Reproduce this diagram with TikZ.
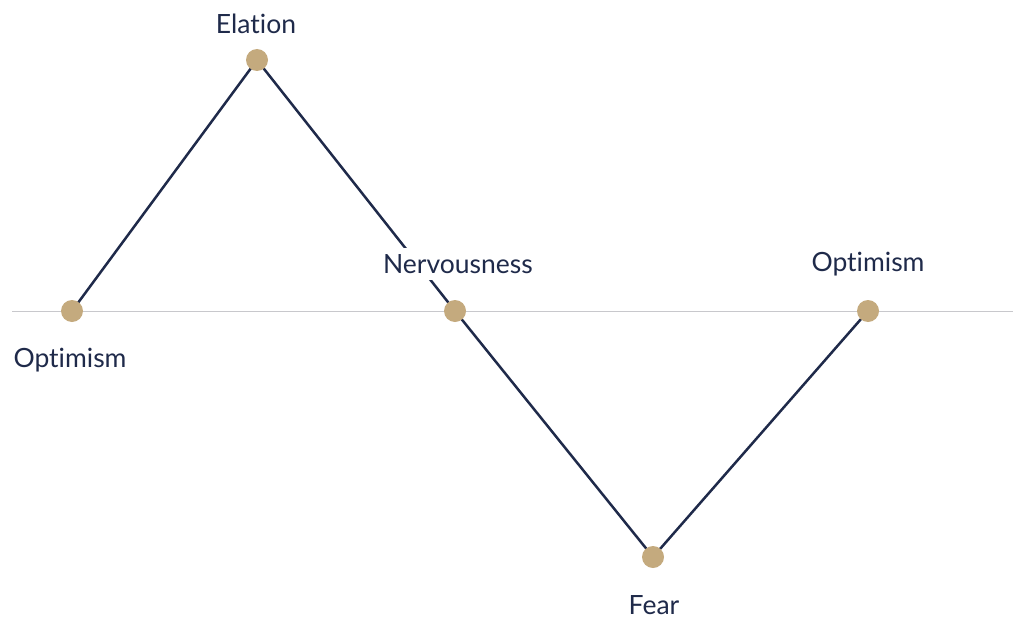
\documentclass[tikz,border=0pt]{standalone}
\usepackage{fontspec}
\setmainfont{Lato}[Ligatures={NoCommon}]
\usetikzlibrary{backgrounds,positioning}
\definecolor{cNavy}{RGB}{31, 42, 74}
\definecolor{cSand}{RGB}{196,170,126}
\definecolor{cAxis}{RGB}{200,200,204}
\tikzset{
  % Mood point
  dot/.style={circle, fill=cSand, minimum size=22pt, inner sep=0pt},
  % Mood label
  mood/.style={font=\fontsize{26.5}{30}\selectfont, text=cNavy, inner sep=2pt},
  % Path segment
  seg/.style={draw=cNavy, line width=2.5pt},
}
\begin{document}
\begin{tikzpicture}[x=1pt, y=-1pt]
\useasboundingbox (0,0) rectangle (1019,618);

% ── Axis ─────────────────────────────────────────────────────────
\coordinate (axl) at (12,311);
\coordinate (axr) at (1013,311);

% ── Points ───────────────────────────────────────────────────────
\node[dot] (p1) at (72,311) {};
\node[dot] (p2) at (257,60) {};
\node[dot] (p3) at (455,311) {};
\node[dot] (p4) at (653,557) {};
\node[dot] (p5) at (868,311) {};

% ── Cycle line ───────────────────────────────────────────────────
\begin{scope}[on background layer]
  \draw[cAxis, line width=1pt] (axl) -- (axr);
  \draw[seg] (p1.center) -- (p2.center) -- (p3.center) -- (p4.center) -- (p5.center);
\end{scope}

% ── Labels ───────────────────────────────────────────────────────
\node[mood] (l1) at (70,360) {Optimism};
\node[mood] (l2) at (256,24) {Elation};
\node[mood, fill=white, inner ysep=6pt] (l3) at (458,264) {Nervousness};
\node[mood] (l4) at (654,605) {Fear};
\node[mood] (l5) at (868,264) {Optimism};

\end{tikzpicture}
\end{document}
